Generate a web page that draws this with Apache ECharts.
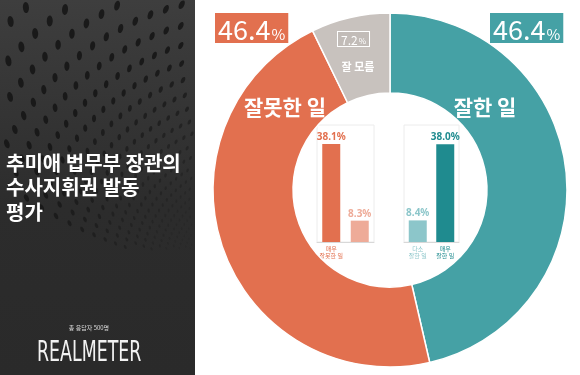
<!DOCTYPE html>
<html><head><meta charset="utf-8">
<script src="https://cdn.jsdelivr.net/npm/echarts@6/dist/echarts.min.js"></script>
<style>html,body{margin:0;padding:0;background:#fff}#c{width:580px;height:375px}</style>
</head><body><div id="c"></div>
<script>
// ---- data ----
const donutNames = ['잘한 일', '잘못한 일', '잘 모름'];
const donutValues = [46.4, 46.4, 7.2];
const donutColors = ['#45a1a5', '#e2704f', '#c8c2be'];

const badCats = ['매우\n잘못한 일', '다소\n잘못한 일'];
const badValues = [38.1, 8.3];
const badColors = ['#e2704f', '#eeab98'];

const goodCats = ['다소\n잘한 일', '매우\n잘한 일'];
const goodValues = [8.4, 38.0];
const goodColors = ['#8cc6ca', '#1f8b8f'];

const titleText = '추미애 법무부 장관의\n수사지휘권 발동\n평가';
const noteText = '총 응답자 500명';
const logoText = 'REALMETER';

const KR = '"Noto Sans CJK KR", "Noto Sans", sans-serif';

const chart = echarts.init(document.getElementById('c'), null, {renderer: 'canvas'});

// decorative dot pattern on the dark panel
const dots = [];
const V = [250, 270];
for (let a = 0; a < 30; a++) {
  const ang = Math.PI + 0.03 + a * 0.06;
  for (let k = 0; k < 34; k++) {
    const r = 40 * Math.pow(1.08, k);
    const x = V[0] + r * Math.cos(ang + r * 0.0012);
    const y = V[1] + r * Math.sin(ang + r * 0.0012);
    if (x < 2 || x > 193 || y < 0 || y > 250) continue;
    const s = Math.min(5.5, r * 0.017);
    dots.push({
      type: 'ellipse', silent: true,
      shape: {cx: x, cy: y, rx: s, ry: s * 0.55},
      rotation: -(ang + Math.PI / 2) + 0.5,
      originX: x, originY: y,
      style: {fill: '#161616', opacity: Math.max(0, Math.min(0.9, (r - 50) / 200))}
    });
  }
}

function pctRich(v, color, big, small, pad, border) {
  return {
    type: 'text', z: 10,
    style: {
      text: '{n|' + v.toFixed(1) + '}{p|%}',
      rich: {
        n: {fontSize: big, fill: '#fff', fontFamily: KR, verticalAlign: 'bottom', lineHeight: big + 2},
        p: {fontSize: small, fill: '#fff', fontFamily: KR, verticalAlign: 'bottom', lineHeight: big - 2, padding: [0,0,1,1]}
      },
      backgroundColor: color,
      padding: pad,
      borderColor: border || color,
      borderWidth: border ? 1 : 0
    }
  };
}

const gTeal = pctRich(donutValues[0], donutColors[0], 27, 15, [1, 3, 0, 3]);
gTeal.x = 490; gTeal.y = 13;
const gOrange = pctRich(donutValues[1], donutColors[1], 27, 15, [1, 3, 0, 3]);
gOrange.x = 215; gOrange.y = 13;
const gGray = pctRich(donutValues[2], '#c2bcb8', 12, 8, [0, 3, 0, 3], '#ffffff');
gGray.x = 338; gGray.y = 32;
gGray.style.rich.n.lineHeight = 14; gGray.style.rich.p.lineHeight = 12;

const barCommon = (cats, vals, cols, gi) => ({
  type: 'bar', xAxisIndex: gi, yAxisIndex: gi,
  barWidth: 18,
  data: vals.map((v, i) => ({value: v, itemStyle: {color: cols[i]},
    label: {color: cols[i]}})),
  label: {show: true, position: 'top', distance: 2, fontSize: 10, fontWeight: 'bold',
    fontFamily: '"Noto Sans", sans-serif', formatter: p => p.value.toFixed(1) + '%'},
  silent: true
});

const xAx = (cats, cols, gi) => ({
  type: 'category', gridIndex: gi, data: cats,
  axisLine: {lineStyle: {color: '#d8d8d8'}}, axisTick: {show: false},
  axisLabel: {fontSize: 6, lineHeight: 7, margin: 3, fontFamily: KR,
    color: (v, i) => cols[i]}
});
const yAx = (gi) => ({type: 'value', gridIndex: gi, min: 0, max: 45.5,
  show: false, splitLine: {show: false}});

chart.setOption({
  animation: false,
  backgroundColor: '#ffffff',
  grid: [
    {left: 317, width: 57, top: 125, height: 117, show: true, borderColor: '#ececec', borderWidth: 1},
    {left: 404, width: 55, top: 125, height: 117, show: true, borderColor: '#ececec', borderWidth: 1}
  ],
  xAxis: [xAx(badCats, badColors, 0), xAx(goodCats, goodColors, 1)],
  yAxis: [yAx(0), yAx(1)],
  series: [
    {
      type: 'pie', center: [390, 190], radius: [97, 177], startAngle: 90, clockwise: true,
      label: {show: false}, labelLine: {show: false}, silent: true,
      itemStyle: {borderColor: '#ffffff', borderWidth: 1.5},
      data: donutNames.map((n, i) => ({name: n, value: donutValues[i], itemStyle: {color: donutColors[i]}}))
    },
    barCommon(badCats, badValues, badColors, 0),
    barCommon(goodCats, goodValues, goodColors, 1)
  ],
  graphic: [
    {type: 'rect', silent: true, shape: {x: 0, y: 0, width: 195, height: 375},
      style: {fill: new echarts.graphic.LinearGradient(0, 0, 0, 1, [
        {offset: 0, color: '#3e3e3e'}, {offset: 0.55, color: '#2c2c2c'}, {offset: 1, color: '#2a2a2a'}])}, z: 0},
    {type: 'group', silent: true, children: dots, z: 1},
    {type: 'text', x: 6, y: 151, z: 5,
      style: {text: titleText, fill: '#ffffff', fontSize: 20, lineHeight: 24.5, fontWeight: 'bold', fontFamily: KR}},
    {type: 'text', z: 5, x: 89, y: 328, style: {text: noteText, fill: '#dddddd', fontSize: 6, fontFamily: KR, align: 'center', verticalAlign: 'middle'}},
    {type: 'text', z: 5, x: 37, y: 339, scaleX: 0.6,
      style: {text: logoText, fill: '#f2f2f2', fontSize: 29, fontFamily: '"DejaVu Sans", sans-serif', fontWeight: 'normal'}},
    gTeal, gOrange, gGray,
    {type: 'text', x: 358, y: 67, z: 10, style: {text: donutNames[2], fill: '#ffffff', fontSize: 11, fontWeight: 'bold', fontFamily: KR, align: 'center', verticalAlign: 'middle'}},
    {type: 'text', x: 285, y: 107, z: 10, style: {text: donutNames[1], fill: '#ffffff', fontSize: 21, fontWeight: 'bold', fontFamily: KR, align: 'center', verticalAlign: 'middle'}},
    {type: 'text', x: 485, y: 107, z: 10, style: {text: donutNames[0], fill: '#ffffff', fontSize: 21, fontWeight: 'bold', fontFamily: KR, align: 'center', verticalAlign: 'middle'}}
  ]
});
</script></body></html>
